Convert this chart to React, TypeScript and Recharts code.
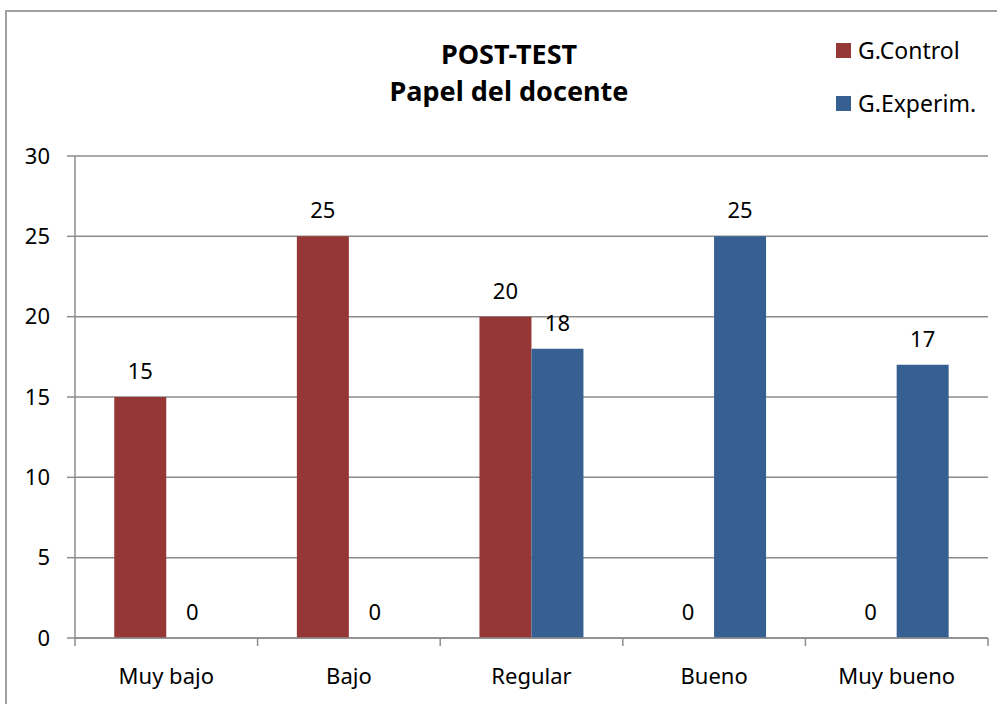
import { BarChart, Bar, XAxis, YAxis, CartesianGrid, LabelList } from 'recharts';

const categories = ['Muy bajo', 'Bajo', 'Regular', 'Bueno', 'Muy bueno'];
const controlValues = [15, 25, 20, 0, 0];
const experimValues = [0, 0, 18, 25, 17];
const yTicks = [0, 5, 10, 15, 20, 25, 30];

const seriesNames = ['G.Control', 'G.Experim.'];
const COLORS = ['#953735', '#376092'];

const AXIS = '#8c8c8c';
const FONT = "'Noto Sans', sans-serif";
const X_TICK_MARGIN = 30;

const data = categories.map((name, i) => ({
  name,
  control: controlValues[i],
  experim: experimValues[i],
}));

// category ticks sit on the band edges, like Excel
const CategoryTick = (props: any) => {
  const { x, y, payload, index, visibleTicksCount } = props;
  const half = payload.offset ?? 0;
  const axisY = y - X_TICK_MARGIN;
  return (
    <g>
      <line x1={x - half} x2={x - half} y1={axisY} y2={axisY + 8} stroke={AXIS} strokeWidth={1.5} />
      {index === visibleTicksCount - 1 && (
        <line x1={x + half} x2={x + half} y1={axisY} y2={axisY + 8} stroke={AXIS} strokeWidth={1.5} />
      )}
      <text x={x} y={y} dy="0.71em" textAnchor="middle" fontSize={22} fill="#000" fontFamily={FONT}>
        {payload.value}
      </text>
    </g>
  );
};

export default function App() {
  return (
    <div
      style={{
        position: 'absolute',
        left: 0,
        top: 0,
        width: 997,
        height: 704,
        overflow: 'hidden',
        background: '#fff',
        fontFamily: FONT,
      }}
    >
      <div
        style={{
          position: 'absolute',
          left: 5,
          top: 10,
          width: 1100,
          height: 800,
          border: '2px solid #a0a0a0',
        }}
      />

      {/* Title */}
      <div
        style={{
          position: 'absolute',
          left: 309,
          width: 400,
          top: 35,
          textAlign: 'center',
          fontWeight: 'bold',
          fontSize: 27,
          lineHeight: '37px',
          color: '#000',
        }}
      >
        <div>POST-TEST</div>
        <div>Papel del docente</div>
      </div>

      {/* Legend */}
      <div style={{ position: 'absolute', left: 836, top: 35 }}>
        {seriesNames.map((s, i) => (
          <div key={s} style={{ display: 'flex', alignItems: 'center', height: 30, marginBottom: 23 }}>
            <div style={{ width: 15, height: 15, background: COLORS[i], marginRight: 7 }} />
            <span style={{ fontSize: 23, color: '#000' }}>{s}</span>
          </div>
        ))}
      </div>

      <div style={{ position: 'absolute', left: 0, top: 0 }}>
        <BarChart
          width={997}
          height={704}
          data={data}
          margin={{ top: 156, right: 9, left: 15, bottom: 0 }}
          barCategoryGap="21.5%"
          barGap={0}
          style={{ fontFamily: FONT }}
        >
          <CartesianGrid vertical={false} stroke={AXIS} strokeWidth={1.5} />
          <XAxis
            dataKey="name"
            height={66}
            axisLine={{ stroke: AXIS, strokeWidth: 1.5 }}
            tickLine={false}
            tickSize={0}
            tickMargin={X_TICK_MARGIN}
            tick={<CategoryTick />}
            interval={0}
          />
          <YAxis
            width={60}
            domain={[0, 30]}
            ticks={yTicks}
            interval={0}
            axisLine={{ stroke: AXIS, strokeWidth: 1.5 }}
            tickLine={{ stroke: AXIS, strokeWidth: 1.5 }}
            tickSize={8}
            tickMargin={17}
            tick={{ fontSize: 22, fill: '#000', fontFamily: FONT }}
          />
          <Bar dataKey="control" name={seriesNames[0]} fill={COLORS[0]} minPointSize={0.01} isAnimationActive={false}>
            <LabelList dataKey="control" position="top" offset={18} fontSize={22} fill="#000" fontFamily={FONT} />
          </Bar>
          <Bar dataKey="experim" name={seriesNames[1]} fill={COLORS[1]} minPointSize={0.01} isAnimationActive={false}>
            <LabelList dataKey="experim" position="top" offset={18} fontSize={22} fill="#000" fontFamily={FONT} />
          </Bar>
        </BarChart>
      </div>
    </div>
  );
}
